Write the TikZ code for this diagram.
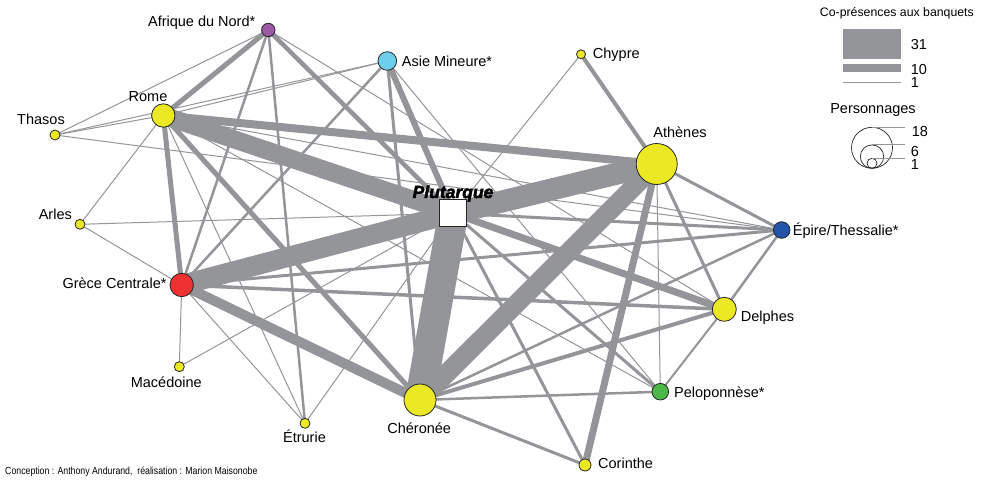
\documentclass[tikz,border=0pt]{standalone}
\usepackage{fontspec}
\setmainfont{Liberation Sans}
\newfontfamily\creditfont{Liberation Sans}[FakeStretch=0.85]
\usetikzlibrary{backgrounds}

\definecolor{edgegray}{RGB}{147,149,152}
\definecolor{cityyellow}{RGB}{236,232,36}
\definecolor{afrviolet}{RGB}{155,89,166}
\definecolor{asieblue}{RGB}{109,207,235}
\definecolor{epireblue}{RGB}{35,86,168}
\definecolor{grecered}{RGB}{238,50,49}
\definecolor{pelogreen}{RGB}{77,184,72}

% heavier glyphs: fill and stroke the outlines
\newcommand{\heavytext}[1]{\special{pdf:literal direct 2 Tr 0.45 w}#1\special{pdf:literal direct 0 Tr}}

\begin{document}
\begin{tikzpicture}[x=1pt,y=-1pt,
    place/.style={circle,draw=black!85,line width=0.8pt,inner sep=0pt},
    lab/.style={inner sep=0pt,font=\fontsize{14.5}{16}\selectfont},
    link/.style={draw=edgegray}]
    \useasboundingbox (0,0) rectangle (985,481);

    % places
    \node[place,fill=afrviolet,minimum size=13.4pt] (afr) at (268.3,30) {};
    \node[place,fill=asieblue,minimum size=18.6pt] (asie) at (387.3,61) {};
    \node[place,fill=cityyellow,minimum size=9pt] (chy) at (581,54.3) {};
    \node[place,fill=cityyellow,minimum size=23.4pt] (rome) at (163.3,115.5) {};
    \node[place,fill=cityyellow,minimum size=10pt] (thas) at (55,135) {};
    \node[place,fill=cityyellow,minimum size=41pt] (ath) at (656.7,164) {};
    \node[place,fill=cityyellow,minimum size=10pt] (arl) at (80,224.3) {};
    \node[place,fill=epireblue,minimum size=16.6pt] (epi) at (781.7,230) {};
    \node[place,fill=grecered,minimum size=23.4pt] (gc) at (181.7,285) {};
    \node[place,fill=cityyellow,minimum size=24pt] (del) at (724.3,309.3) {};
    \node[place,fill=cityyellow,minimum size=10pt] (mac) at (179.3,366.7) {};
    \node[place,fill=pelogreen,minimum size=16.6pt] (pel) at (660.3,391.7) {};
    \node[place,fill=cityyellow,minimum size=32pt] (cher) at (420,400) {};
    \node[place,fill=cityyellow,minimum size=10pt] (etr) at (305,423.3) {};
    \node[place,fill=cityyellow,minimum size=12pt] (cor) at (585,465) {};
    \node[rectangle,draw=black!85,fill=white,line width=1pt,minimum size=26.7pt,inner sep=0pt] (plut) at (453.3,213.3) {};

    % labels
    \node[lab,anchor=base] (afr-lab) at (201.7,27) {Afrique du Nord*};
    \node[lab,anchor=base west] (asie-lab) at (401.7,66.5) {Asie Mineure*};
    \node[lab,anchor=base west] (chy-lab) at (592.7,59) {Chypre};
    \node[lab,anchor=base] (rome-lab) at (148,101.5) {Rome};
    \node[lab,anchor=base] (thas-lab) at (41,124.5) {Thasos};
    \node[lab,anchor=base] (ath-lab) at (680,137.5) {Athènes};
    \node[lab,anchor=base] (arl-lab) at (55.3,219.5) {Arles};
    \node[lab,anchor=base west] (epi-lab) at (792.7,236) {Épire/Thessalie*};
    \node[lab,anchor=base east] (gc-lab) at (166.7,288) {Grèce Centrale*};
    \node[lab,anchor=base west] (del-lab) at (740.7,321) {Delphes};
    \node[lab,anchor=base] (mac-lab) at (166.3,387) {Macédoine};
    \node[lab,anchor=base west] (pel-lab) at (674,397.5) {Peloponnèse*};
    \node[lab,anchor=base] (cher-lab) at (419.2,433.5) {Chéronée};
    \node[lab,anchor=base] (etr-lab) at (304.5,442.5) {Étrurie};
    \node[lab,anchor=base west] (cor-lab) at (598,468) {Corinthe};
    \node[inner sep=0pt,anchor=base,font=\fontsize{17.5}{19}\selectfont\bfseries\itshape] (plut-lab) at (453,198) {\heavytext{Plutarque}};

    % legend
    \node[inner sep=0pt,anchor=base east,font=\fontsize{12.3}{14}\selectfont] (leg-title) at (974,16.5) {Co-présences aux banquets};
    \fill[edgegray] (843.3,29.3) rectangle (900.7,59.3); % 31
    \fill[edgegray] (843.3,64.3) rectangle (900.7,71.7); % 10
    \draw[edgegray,line width=1pt] (843.3,82.7) -- (900.7,82.7); % 1
    \node[lab,anchor=base west] (leg-31) at (910.7,50) {31};
    \node[lab,anchor=base west] (leg-10) at (910.7,74.5) {10};
    \node[lab,anchor=base west] (leg-1) at (910.7,88) {1};
    \node[lab,anchor=base] (leg-pers) at (873,113.5) {Personnages};
    \draw[black!85,line width=0.7pt] (872,147.8) circle (20.5pt);
    \draw[black!85,line width=0.7pt] (872,156.6) circle (11.7pt);
    \draw[black!85,line width=0.7pt] (872,163.3) circle (5pt);
    \draw[edgegray,line width=0.8pt] (872,127.3) -- (905,127.3);
    \draw[edgegray,line width=0.8pt] (872,144.9) -- (905,144.9);
    \draw[edgegray,line width=0.8pt] (872,158.3) -- (905,158.3);
    \node[lab,anchor=base west] (leg-18) at (911.7,136.7) {18};
    \node[lab,anchor=base west] (leg-6) at (910.7,156.7) {6};
    \node[lab,anchor=base west] (leg-p1) at (910.7,170) {1};

    \node[inner sep=0pt,anchor=base west,font=\creditfont\fontsize{10.3}{12}\selectfont] (credit) at (5,474) {Conception : Anthony Andurand,\ \ réalisation : Marion Maisonobe};

    \begin{scope}[on background layer]
    % heavy links
    \draw[link,line width=30pt] (plut.center) -- (cher.center);
    \draw[link,line width=22pt] (plut.center) -- (ath.center);
    \draw[link,line width=19pt] (ath.center) -- (cher.center);
    \draw[link,line width=20pt] (plut.center) -- (gc.center);
    \draw[link,line width=18pt] (plut.center) -- (rome.center);
    \draw[link,line width=10pt] (gc.center) -- (cher.center);
    \draw[link,line width=8pt] (rome.center) -- (ath.center);
    \draw[link,line width=7pt] (ath.center) -- (cor.center);
    \draw[link,line width=7pt] (plut.center) -- (del.center);
    \draw[link,line width=6pt] (plut.center) -- (asie.center);
    \draw[link,line width=5pt] (rome.center) -- (gc.center);
    \draw[link,line width=5pt] (rome.center) -- (cher.center);
    \draw[link,line width=5pt] (afr.center) -- (rome.center);
    \draw[link,line width=4.5pt] (afr.center) -- (plut.center);
    % medium links
    \draw[link,line width=4pt] (chy.center) -- (ath.center);
    \draw[link,line width=4pt] (del.center) -- (cher.center);
    \draw[link,line width=3.5pt] (gc.center) -- (del.center);
    \draw[link,line width=3pt] (gc.center) -- (epi.center);
    \draw[link,line width=3pt] (ath.center) -- (epi.center);
    \draw[link,line width=3pt] (ath.center) -- (del.center);
    \draw[link,line width=3pt] (plut.center) -- (epi.center);
    \draw[link,line width=3pt] (plut.center) -- (pel.center);
    \draw[link,line width=3pt] (plut.center) -- (cor.center);
    \draw[link,line width=3pt] (cher.center) -- (cor.center);
    \draw[link,line width=3pt] (asie.center) -- (cher.center);
    \draw[link,line width=2.5pt] (afr.center) -- (etr.center);
    \draw[link,line width=2.5pt] (afr.center) -- (gc.center);
    \draw[link,line width=2.5pt] (asie.center) -- (gc.center);
    \draw[link,line width=2.5pt] (epi.center) -- (del.center);
    \draw[link,line width=2.5pt] (cher.center) -- (epi.center);
    \draw[link,line width=2.5pt] (cher.center) -- (pel.center);
    \draw[link,line width=2pt] (del.center) -- (pel.center);
    % thin links
    \draw[link,line width=1pt] (afr.center) -- (thas.center);
    \draw[link,line width=1pt] (afr.center) -- (del.center);
    \draw[link,line width=1pt] (asie.center) -- (thas.center);
    \draw[link,line width=1pt] (asie.center) -- (rome.center);
    \draw[link,line width=1pt] (asie.center) -- (pel.center);
    \draw[link,line width=1pt] (chy.center) -- (plut.center);
    \draw[link,line width=1pt] (rome.center) -- (thas.center);
    \draw[link,line width=1pt] (rome.center) -- (arl.center);
    \draw[link,line width=1pt] (rome.center) -- (etr.center);
    \draw[link,line width=1pt] (rome.center) -- (epi.center);
    \draw[link,line width=1pt] (rome.center) -- (del.center);
    \draw[link,line width=1pt] (rome.center) -- (pel.center);
    \draw[link,line width=1pt] (thas.center) -- (epi.center);
    \draw[link,line width=1pt] (arl.center) -- (gc.center);
    \draw[link,line width=1pt] (arl.center) -- (plut.center);
    \draw[link,line width=1pt] (gc.center) -- (mac.center);
    \draw[link,line width=1pt] (gc.center) -- (etr.center);
    \draw[link,line width=1pt] (mac.center) -- (plut.center);
    \draw[link,line width=1pt] (etr.center) -- (plut.center);
    \draw[link,line width=1pt] (ath.center) -- (pel.center);
    \end{scope}
\end{tikzpicture}
\end{document}
